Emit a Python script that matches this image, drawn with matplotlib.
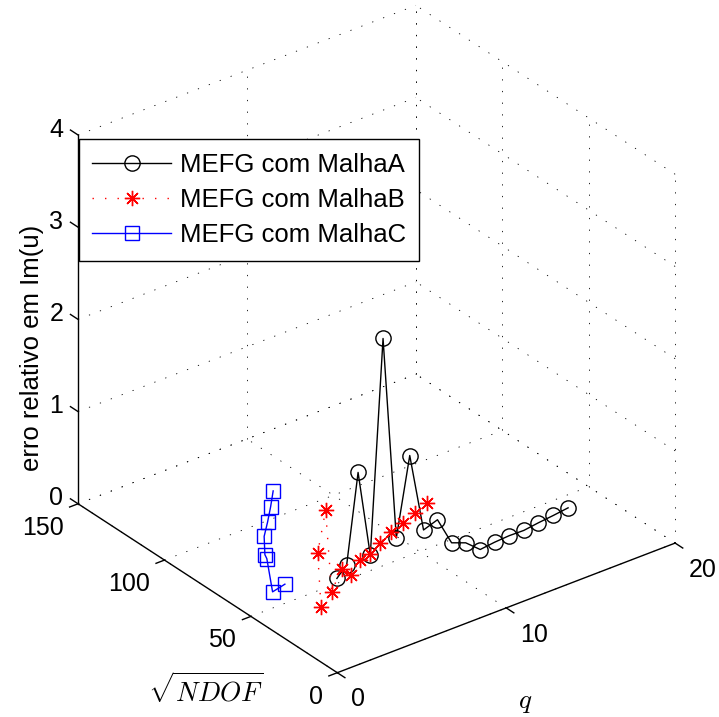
import numpy as np
import matplotlib.pyplot as plt
from mpl_toolkits.mplot3d import proj3d

plt.rcParams['font.family'] = ['Liberation Sans', 'DejaVu Sans']
plt.rcParams['mathtext.fontset'] = 'cm'

# q, sqrt(NDOF) and relative error of Im(u) for each mesh
q_a = [1, 2, 3, 4, 5, 6, 7, 8, 9, 10, 11, 12, 13, 14, 15, 16, 17, 18]
ndof_a = [10.0, 14.1, 17.3, 20.0, 22.4, 24.5, 26.5, 28.3, 30.0, 31.6, 33.2, 34.6,
          36.1, 37.4, 38.7, 40.0, 41.2, 42.4]
err_a = [0.83, 0.86, 1.75, 0.75, 3.00, 0.74, 1.54, 0.64, 0.66, 0.32, 0.23, 0.07,
         0.06, 0.045, 0.016, 0.013, 0.007, 0.005]

q_b = [1, 2, 3, 4, 5, 6, 7, 8, 9, 10, 11, 12, 13]
ndof_b = [19.2, 30.9, 36.1, 42.4, 46.4, 50.9, 55.3, 59.3, 63.3, 66.9, 69.3, 72.4, 75.4]
err_b = [0.41, 0.78, 1.11, 0.08, 0.21, 0.013, 0.052, 0.005, 0.002, 0.005, 0.002,
         0.001, 0.001]

q_c = [1, 2, 3, 4, 5, 6, 7, 8]
ndof_c = [40.1, 57.0, 70.1, 81.0, 91.2, 99.0, 107.0, 115.3]
err_c = [0.40, 0.04, 0.17, 0.01, 0.013, 0.002, 0.001, 0.001]

labels = ['MEFG com MalhaA', 'MEFG com MalhaB', 'MEFG com MalhaC']

x_ticks = [0, 10, 20]
y_ticks = [0, 50, 100, 150]
z_ticks = [0, 1, 2, 3, 4]

W, H = 719, 717
fs = 18

fig = plt.figure(figsize=(W / 100, H / 100), dpi=100)
ax = fig.add_axes([0.05, 0.05, 0.9, 0.9], projection='3d', proj_type='ortho')
ax.view_init(elev=30, azim=-127.5)
ax.set_box_aspect((1, 1, 1))
ax.set_xlim(0, 20)
ax.set_ylim(0, 150)
ax.set_zlim(0, 4)
ax.set_axis_off()
ax.computed_zorder = False

# dotted grid on the floor and the two back walls
grid = dict(color='k', lw=0.6, ls=(0, (1.5, 12.5)), zorder=1)
for xv in x_ticks:
    ax.plot([xv, xv], [0, 150], [0, 0], **grid)
    ax.plot([xv, xv], [150, 150], [0, 4], **grid)
for yv in y_ticks:
    ax.plot([0, 20], [yv, yv], [0, 0], **grid)
    ax.plot([20, 20], [yv, yv], [0, 4], **grid)
for zv in z_ticks:
    ax.plot([0, 20], [150, 150], [zv, zv], **grid)
    ax.plot([20, 20], [0, 150], [zv, zv], **grid)

# axis lines and tick marks
axl = dict(color='k', lw=1.0, zorder=2)
ax.plot([0, 20], [0, 0], [0, 0], **axl)
ax.plot([0, 0], [0, 150], [0, 0], **axl)
ax.plot([0, 0], [150, 150], [0, 4], **axl)
for xv in x_ticks:
    ax.plot([xv, xv], [0, -4.4], [0, 0], **axl)
for yv in y_ticks:
    ax.plot([0, -0.5], [yv, yv], [0, 0], **axl)
for zv in z_ticks:
    ax.plot([0, 0], [150, 154.4], [zv, zv], **axl)

ax.plot(q_a, ndof_a, err_a, color='k', lw=1.0, marker='o', ms=11, mfc='none',
        mew=1.0, zorder=3, label=labels[0])
ax.plot(q_b, ndof_b, err_b, color='r', lw=1.0, ls=(0, (1.0, 8.0)), marker=(8, 2, 0),
        ms=11, mew=1.0, zorder=4, label=labels[1])
ax.plot(q_c, ndof_c, err_c, color='b', lw=1.0, marker='s', ms=10, mfc='none',
        mew=1.0, zorder=5, label=labels[2])


def proj(x, y, z):
    x2, y2, _ = proj3d.proj_transform(x, y, z, ax.get_proj())
    return x2, y2


# scale and move the axes so the box sits where it should on the page
fig.canvas.draw()
p0 = ax.transData.transform(proj(0, 0, 0))
p1 = ax.transData.transform(proj(20, 0, 0))
o_px = np.array([337.3, H - 672.7])
x_px = np.array([675.0, H - 542.7])
bb = ax.bbox
c = np.array([bb.x0 + bb.width / 2, bb.y0 + bb.height / 2])
k = np.linalg.norm(x_px - o_px) / np.linalg.norm(p1 - p0)
s2 = bb.height * k
c2 = o_px - (p0 - c) * k
ax.set_position([(c2[0] - s2 / 2) / W, (c2[1] - s2 / 2) / H, s2 / W, s2 / H])

# tick labels, offsets in pixels
pt = 0.72
lab = dict(fontsize=fs, textcoords='offset points', annotation_clip=False)
for xv in x_ticks:
    ax.annotate(str(xv), proj(xv, 0, 0), xytext=(13.5 * pt, -33.7 * pt),
                ha='left', va='baseline', **lab)
for yv in y_ticks:
    ax.annotate(str(yv), proj(0, yv, 0), xytext=(-14.5 * pt, -31 * pt),
                ha='right', va='baseline', **lab)
for zv in z_ticks:
    ax.annotate(str(zv), proj(0, 150, zv), xytext=(-14.7 * pt, -1.7 * pt),
                ha='right', va='baseline', **lab)

fig.text(32 / W, 1 - 348 / H, 'erro relativo em Im(u)', rotation=90,
         ha='center', va='center', fontsize=18.5)
fig.text(206 / W, 1 - 690 / H, r'$\sqrt{NDOF}$', ha='center', va='center', fontsize=19.5)
fig.text(525 / W, 1 - 702 / H, r'$q$', ha='center', va='center', fontsize=19.5)

leg = fig.legend(loc='upper left', bbox_to_anchor=(79 / W, 1 - 139.4 / H),
                 fontsize=18.5, frameon=True, fancybox=False, edgecolor='k',
                 framealpha=1, borderpad=0.52, labelspacing=0.44,
                 handlelength=3.05, handletextpad=0.35, borderaxespad=0)
leg.get_frame().set_linewidth(1.0)

fig.savefig('out.png', dpi=100)
